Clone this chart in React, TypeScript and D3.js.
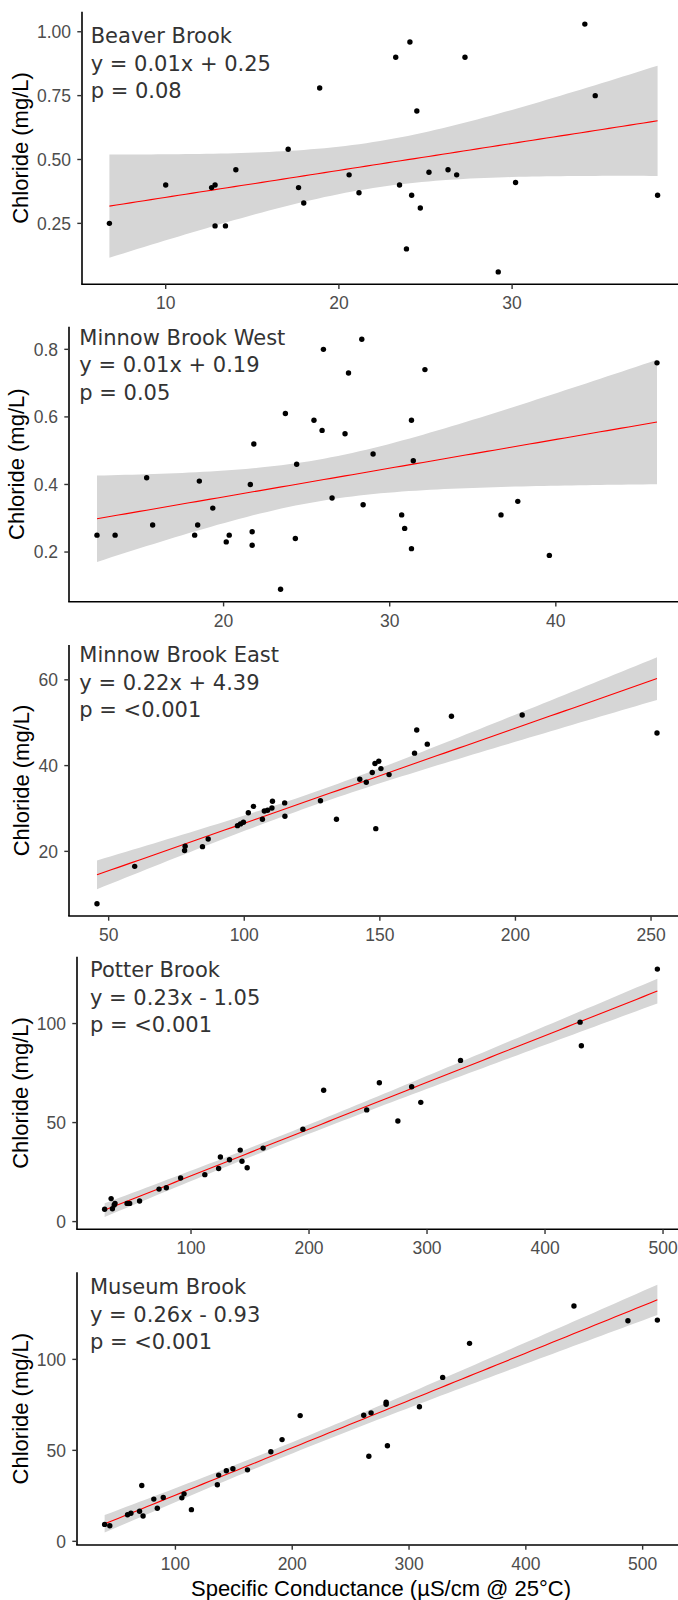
import React from "react";
import * as d3 from "d3";

// ---------------- DATA ----------------
const siteNames = ["Beaver Brook", "Minnow Brook West", "Minnow Brook East", "Potter Brook", "Museum Brook"];
const equationLabels = ["y = 0.01x + 0.25", "y = 0.01x + 0.19", "y = 0.22x + 4.39", "y = 0.23x - 1.05", "y = 0.26x - 0.93"];
const pLabels = ["p = 0.08", "p = 0.05", "p = <0.001", "p = <0.001", "p = <0.001"];

const beaverCond = [6.75, 10.0, 12.65, 12.85, 12.85, 13.45, 14.05, 17.07, 17.67, 17.97, 18.89, 20.59, 21.16, 23.28, 23.5, 23.9, 24.1, 24.2, 24.5, 24.7, 25.2, 26.3, 26.8, 27.28, 29.2, 30.2, 34.2, 34.8, 38.4];
const beaverCl = [0.25, 0.40, 0.39, 0.40, 0.24, 0.24, 0.46, 0.54, 0.39, 0.33, 0.78, 0.44, 0.37, 0.90, 0.40, 0.15, 0.96, 0.36, 0.69, 0.31, 0.45, 0.46, 0.44, 0.90, 0.06, 0.41, 1.03, 0.75, 0.36];

const westCond = [12.38, 13.47, 15.37, 15.73, 18.26, 18.44, 18.54, 19.35, 20.16, 20.34, 21.61, 21.72, 21.72, 21.82, 23.43, 23.72, 24.32, 24.40, 25.44, 25.93, 26.01, 26.53, 27.31, 27.52, 28.32, 28.40, 29.0, 30.72, 30.90, 31.31, 31.31, 31.42, 32.12, 36.70, 37.71, 39.61, 46.09];
const westCl = [0.25, 0.25, 0.42, 0.28, 0.25, 0.28, 0.41, 0.33, 0.23, 0.25, 0.40, 0.26, 0.22, 0.52, 0.09, 0.61, 0.24, 0.46, 0.59, 0.56, 0.80, 0.36, 0.55, 0.73, 0.83, 0.34, 0.49, 0.31, 0.27, 0.59, 0.21, 0.47, 0.74, 0.31, 0.35, 0.19, 0.76];

const eastCond = [45.7, 59.6, 78.0, 78.2, 84.6, 86.7, 97.5, 98.6, 99.7, 101.5, 103.4, 106.7, 107.4, 108.6, 110.2, 110.4, 114.9, 115.0, 128.1, 134.0, 142.6, 145.0, 147.2, 148.2, 148.5, 149.6, 150.4, 153.4, 162.8, 163.6, 167.5, 176.4, 202.5, 252.2];
const eastCl = [7.8, 16.5, 20.2, 21.2, 21.1, 22.9, 26.0, 26.4, 26.8, 29.0, 30.5, 27.5, 29.4, 29.6, 30.1, 31.7, 31.3, 28.2, 31.8, 27.5, 36.8, 36.1, 38.4, 40.5, 25.3, 41.0, 39.3, 37.9, 42.9, 48.3, 45.0, 51.5, 51.8, 47.6];

const potterCond = [26.8, 32.3, 33.4, 34.9, 35.6, 45.8, 48.0, 56.4, 72.9, 79.1, 91.2, 111.7, 123.4, 124.9, 132.6, 141.7, 143.2, 147.6, 161.1, 194.8, 212.4, 248.9, 259.6, 275.3, 287.0, 294.7, 328.4, 429.7, 430.8, 495.2];
const potterCl = [6.2, 11.6, 6.5, 8.4, 9.2, 9.2, 9.2, 10.4, 16.4, 17.1, 22.0, 23.7, 26.8, 32.6, 31.2, 36.1, 30.5, 27.2, 37.1, 46.6, 66.3, 56.4, 70.1, 50.8, 68.1, 60.2, 81.4, 100.7, 88.8, 127.5];

const museumCond = [39.4, 43.8, 59.0, 61.9, 69.3, 71.2, 72.3, 81.5, 84.5, 89.6, 105.5, 107.4, 113.7, 135.9, 137.0, 143.6, 149.2, 161.7, 181.7, 191.3, 206.8, 261.2, 265.6, 267.5, 280.4, 280.4, 281.5, 308.9, 328.8, 351.8, 441.2, 487.4, 512.6];
const museumCl = [9.3, 8.6, 14.6, 15.4, 16.5, 30.7, 13.9, 23.2, 18.2, 24.1, 23.9, 26.1, 17.4, 31.1, 36.4, 38.8, 39.9, 39.3, 49.2, 55.9, 69.1, 69.3, 46.8, 70.6, 76.5, 75.3, 52.5, 74.0, 90.1, 108.8, 129.3, 121.2, 121.6];

const xTicks = [
  [10, 20, 30],
  [20, 30, 40],
  [50, 100, 150, 200, 250],
  [100, 200, 300, 400, 500],
  [100, 200, 300, 400, 500],
];
const yTicks = [
  [0.25, 0.5, 0.75, 1.0],
  [0.2, 0.4, 0.6, 0.8],
  [20, 40, 60],
  [0, 50, 100],
  [0, 50, 100],
];
const yTickFormats = [".2f", ".1f", "d", "d", "d"];

const xTitle = "Specific Conductance (\u00b5S/cm @ 25\u00b0C)";
const yTitle = "Chloride (mg/L)";

// ---------------- LAYOUT ----------------
const W = 678;
const H = 1600;
const PANEL_RIGHT = 685;
const layout = [
  { top: 11.7, bottom: 284.3, left: 82, titleX: 28.3, textX: 90.7, textY: 43.3 },
  { top: 326.7, bottom: 601.7, left: 69, titleX: 24, textX: 79.3, textY: 345 },
  { top: 645, bottom: 916, left: 69, titleX: 29.3, textX: 79.3, textY: 662.3 },
  { top: 956.7, bottom: 1229.3, left: 77, titleX: 28.3, textX: 90, textY: 977.3 },
  { top: 1272.3, bottom: 1545, left: 77, titleX: 28.3, textX: 90, textY: 1294.3 },
];

const series = [
  [beaverCond, beaverCl],
  [westCond, westCl],
  [eastCond, eastCl],
  [potterCond, potterCl],
  [museumCond, museumCl],
];

// t quantile (0.975) via Cornish-Fisher expansion
function tQuantile975(df: number) {
  const z = 1.959963985;
  const z3 = z ** 3, z5 = z ** 5, z7 = z ** 7;
  return (
    z +
    (z3 + z) / (4 * df) +
    (5 * z5 + 16 * z3 + 3 * z) / (96 * df * df) +
    (3 * z7 + 19 * z5 + 17 * z3 - 15 * z) / (384 * df ** 3)
  );
}

function lmFit(xs: number[], ys: number[]) {
  const n = xs.length;
  const xbar = d3.mean(xs)!;
  const ybar = d3.mean(ys)!;
  let sxx = 0, sxy = 0;
  for (let i = 0; i < n; i++) {
    sxx += (xs[i] - xbar) ** 2;
    sxy += (xs[i] - xbar) * (ys[i] - ybar);
  }
  const b = sxy / sxx;
  const a = ybar - b * xbar;
  let sse = 0;
  for (let i = 0; i < n; i++) sse += (ys[i] - (a + b * xs[i])) ** 2;
  const s = Math.sqrt(sse / (n - 2));
  const t = tQuantile975(n - 2);
  const [x0, x1] = d3.extent(xs) as [number, number];
  const grid = d3.range(80).map((i) => x0 + ((x1 - x0) * i) / 79);
  return grid.map((x) => {
    const fit = a + b * x;
    const se = s * Math.sqrt(1 / n + (x - xbar) ** 2 / sxx);
    return { x, fit, lo: fit - t * se, hi: fit + t * se };
  });
}

function expand([a, b]: [number, number]): [number, number] {
  const d = (b - a) * 0.05;
  return [a - d, b + d];
}

const ANN_FONT = "'DejaVu Sans', sans-serif";
const AXIS_FONT = "'Liberation Sans', Arial, sans-serif";

function Panel({ idx }: { idx: number }) {
  const [xs, ys] = series[idx];
  const L = layout[idx];
  const fitPts = lmFit(xs, ys);
  const xDom = expand(d3.extent(xs) as [number, number]);
  const yAll = ys.concat(fitPts.map((d) => d.lo), fitPts.map((d) => d.hi));
  const yDom = expand(d3.extent(yAll) as [number, number]);
  const x = d3.scaleLinear().domain(xDom).range([L.left, PANEL_RIGHT]);
  const y = d3.scaleLinear().domain(yDom).range([L.bottom, L.top]);
  const area = d3
    .area<any>()
    .x((d) => x(d.x))
    .y0((d) => y(d.lo))
    .y1((d) => y(d.hi));
  const line = d3
    .line<any>()
    .x((d) => x(d.x))
    .y((d) => y(d.fit));
  const fmt = d3.format(yTickFormats[idx]);
  const tickLen = 4.7;
  const lineGap = 27.3;
  const midY = (L.top + L.bottom) / 2;
  return (
    <g>
      <path d={area(fitPts) || ""} fill="#D6D6D6" stroke="none" />
      <path d={line(fitPts) || ""} fill="none" stroke="#FF0000" strokeWidth={1.1} />
      {xs.map((xv, i) => (
        <circle key={i} cx={x(xv)} cy={y(ys[i])} r={2.7} fill="#000" />
      ))}
      {/* axes */}
      <line x1={L.left} x2={L.left} y1={L.top} y2={L.bottom} stroke="#000" strokeWidth={1.6} />
      <line x1={L.left - 0.8} x2={PANEL_RIGHT} y1={L.bottom} y2={L.bottom} stroke="#000" strokeWidth={1.6} />
      {yTicks[idx].map((t) => (
        <g key={"y" + t}>
          <line x1={L.left - tickLen} x2={L.left} y1={y(t)} y2={y(t)} stroke="#333" strokeWidth={1.4} />
          <text
            x={L.left - 11}
            y={y(t)}
            dy="0.36em"
            textAnchor="end"
            fontFamily={AXIS_FONT}
            fontSize={17.5}
            fill="#4D4D4D"
          >
            {fmt(t)}
          </text>
        </g>
      ))}
      {xTicks[idx].map((t) => (
        <g key={"x" + t}>
          <line x1={x(t)} x2={x(t)} y1={L.bottom} y2={L.bottom + tickLen} stroke="#333" strokeWidth={1.4} />
          <text
            x={x(t)}
            y={L.bottom + 25}
            textAnchor="middle"
            fontFamily={AXIS_FONT}
            fontSize={17.5}
            fill="#4D4D4D"
          >
            {t}
          </text>
        </g>
      ))}
      <text
        transform={`translate(${L.titleX},${midY}) rotate(-90)`}
        textAnchor="middle"
        fontFamily={AXIS_FONT}
        fontSize={22}
        fill="#000"
      >
        {yTitle}
      </text>
      {[siteNames[idx], equationLabels[idx], pLabels[idx]].map((s, i) => (
        <text
          key={i}
          x={L.textX}
          y={L.textY + i * lineGap}
          fontFamily={ANN_FONT}
          fontSize={21}
          fill="#333333"
        >
          {s}
        </text>
      ))}
    </g>
  );
}

export default function App() {
  return (
    <svg
      width={W}
      height={H}
      viewBox={`0 0 ${W} ${H}`}
      style={{ position: "absolute", left: 0, top: 0, background: "#fff", overflow: "hidden" }}
    >
      <rect x={0} y={0} width={W} height={H} fill="#fff" />
      {series.map((_, i) => (
        <Panel key={i} idx={i} />
      ))}
      <text
        x={(layout[4].left + PANEL_RIGHT) / 2}
        y={1596}
        textAnchor="middle"
        fontFamily={AXIS_FONT}
        fontSize={22}
        fill="#000"
      >
        {xTitle}
      </text>
    </svg>
  );
}
